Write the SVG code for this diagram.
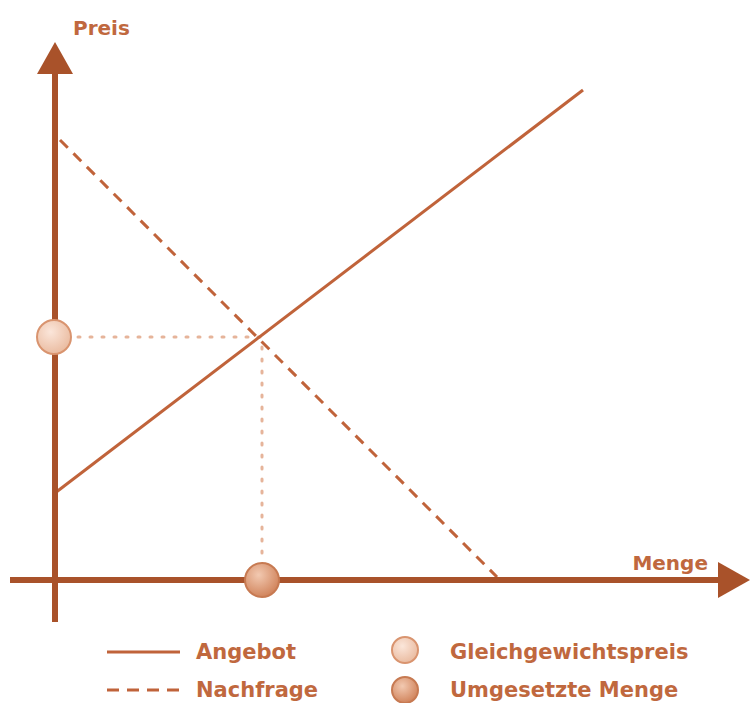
<svg xmlns="http://www.w3.org/2000/svg" width="751" height="703" viewBox="0 0 751 703">
<style>
.axis{stroke:#a9522a;stroke-width:6;fill:none}
.supply{stroke:#c0633a;stroke-width:3;fill:none}
.demand{stroke:#c0633a;stroke-width:3;fill:none;stroke-dasharray:11 8}
.guide{stroke:#e6b49a;stroke-width:3;fill:none;stroke-dasharray:2 10;stroke-linecap:round}
.lbl{font-family:"DejaVu Sans",sans-serif;font-weight:bold;font-size:20px;fill:#c0683e}
.leg{font-size:21px}
</style>
<defs>
<radialGradient id="gLight" cx="0.4" cy="0.35" r="0.7">
<stop offset="0" stop-color="#fbe6da"/><stop offset="1" stop-color="#e9b99d"/>
</radialGradient>
<radialGradient id="gDark" cx="0.4" cy="0.35" r="0.7">
<stop offset="0" stop-color="#f2c9b1"/><stop offset="1" stop-color="#cf8057"/>
</radialGradient>
</defs>
<g id="connectors">
<line class="guide" x1="78" y1="337" x2="262" y2="337"/>
<line class="guide" x1="262" y1="347" x2="262" y2="562"/>
<line class="supply" x1="55" y1="493" x2="583" y2="90"/>
<line class="demand" x1="60" y1="140" x2="497" y2="577"/>
</g>
<g id="y-axis">
<line class="axis" x1="55" y1="70" x2="55" y2="622"/>
<polygon points="55,42 37,74 73,74" fill="#a9522a"/>
<text class="lbl" x="73" y="35">Preis</text>
</g>
<g id="x-axis">
<line class="axis" x1="10" y1="580" x2="722" y2="580"/>
<polygon points="750,580 718,562 718,598" fill="#a9522a"/>
<text class="lbl" x="708" y="570" text-anchor="end">Menge</text>
</g>
<g id="price-point">
<circle cx="54" cy="337" r="17" fill="url(#gLight)" stroke="#d9946f" stroke-width="2"/>
</g>
<g id="quantity-point">
<circle cx="262" cy="580" r="17" fill="url(#gDark)" stroke="#c77a52" stroke-width="2"/>
</g>
<g id="legend">
<line class="supply" x1="107" y1="652" x2="180" y2="652"/>
<text class="lbl leg" x="196" y="659">Angebot</text>
<line class="demand" x1="107" y1="690" x2="180" y2="690" style="stroke-dasharray:12 8"/>
<text class="lbl leg" x="196" y="697">Nachfrage</text>
<circle cx="405" cy="650" r="13" fill="url(#gLight)" stroke="#d9946f" stroke-width="2"/>
<text class="lbl leg" x="450" y="659">Gleichgewichtspreis</text>
<circle cx="405" cy="690" r="13" fill="url(#gDark)" stroke="#c77a52" stroke-width="2"/>
<text class="lbl leg" x="450" y="697">Umgesetzte Menge</text>
</g>
</svg>
